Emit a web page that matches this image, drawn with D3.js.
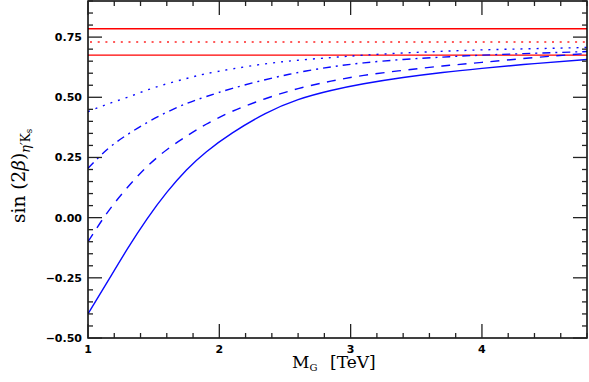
<!DOCTYPE html>
<html><head><meta charset="utf-8">
<script src="https://cdn.jsdelivr.net/npm/d3@7"></script>
<style>body{margin:0;background:#fff}</style>
</head><body>
<svg id="c" width="589" height="382"></svg>
<script>
const mass = [1, 1.15, 1.3, 1.45, 1.6, 1.75, 1.9, 2.1, 2.35, 2.6, 2.85, 3.1, 3.4, 3.7, 4.0, 4.4, 4.8];
const solidS   = [-0.40, -0.265, -0.13, -0.005, 0.105, 0.198, 0.273, 0.352, 0.432, 0.49, 0.528, 0.556, 0.582, 0.603, 0.62, 0.64, 0.657];
const dashedS  = [-0.10, 0.023, 0.125, 0.212, 0.282, 0.338, 0.388, 0.442, 0.494, 0.536, 0.567, 0.591, 0.612, 0.63, 0.645, 0.665, 0.682];
const dashdotS = [0.205, 0.285, 0.345, 0.395, 0.438, 0.474, 0.503, 0.537, 0.573, 0.603, 0.626, 0.643, 0.657, 0.667, 0.675, 0.683, 0.69];
const dottedS  = [0.44, 0.472, 0.50, 0.53, 0.556, 0.578, 0.598, 0.618, 0.639, 0.654, 0.665, 0.675, 0.684, 0.691, 0.697, 0.702, 0.707];
const bandUpper = 0.785, bandCentral = 0.73, bandLower = 0.675;
const xTicks = [1, 2, 3, 4];
const yTicks = [-0.5, -0.25, 0, 0.25, 0.5, 0.75];

const svg = d3.select("#c");
const L = 88, R = 587, T = 1, B = 338;
const x = d3.scaleLinear().domain([1, 4.8]).range([L, R]);
const y = d3.scaleLinear().domain([-0.5, 0.9]).range([B, T]);

svg.append("clipPath").attr("id","clip").append("rect").attr("x",L).attr("y",T).attr("width",R-L).attr("height",B-T);
const pg = svg.append("g").attr("clip-path","url(#clip)");

[bandUpper, bandLower].forEach(v=>{
  pg.append("line").attr("x1",L).attr("x2",R).attr("y1",y(v)).attr("y2",y(v))
    .attr("stroke","#ff0000").attr("stroke-width",1.4);
});
pg.append("line").attr("x1",L+2).attr("x2",R).attr("y1",y(bandCentral)).attr("y2",y(bandCentral))
  .attr("stroke","#ff5a5a").attr("stroke-width",2).attr("stroke-dasharray","2,5.7");

const line = d3.line().x(d=>x(d[0])).y(d=>y(d[1])).curve(d3.curveNatural);
const series = [
  {v: solidS, dash: null},
  {v: dashedS, dash: "9,7.5"},
  {v: dashdotS, dash: "8,5,2,5"},
  {v: dottedS, dash: "2,6"}
];
series.forEach(s=>{
  pg.append("path").datum(mass.map((m,i)=>[m,s.v[i]]))
    .attr("d", line).attr("fill","none").attr("stroke","#0a0aff").attr("stroke-width",1.4)
    .attr("stroke-dasharray", s.dash);
});

svg.append("rect").attr("x",L).attr("y",T).attr("width",R-L).attr("height",B-T)
  .attr("fill","none").attr("stroke","#000").attr("stroke-width",1.5);

const tg = svg.append("g").attr("stroke","#222").attr("stroke-width",1.3);
d3.range(1, 4.81, 0.2).forEach(v=>{
  const major = Math.abs(v-Math.round(v))<1e-6;
  const len = major?14:5;
  tg.append("line").attr("x1",x(v)).attr("x2",x(v)).attr("y1",B).attr("y2",B-len);
  tg.append("line").attr("x1",x(v)).attr("x2",x(v)).attr("y1",T).attr("y2",T+len);
});
d3.range(-0.5, 0.901, 0.05).forEach(v=>{
  const major = Math.abs(v*4-Math.round(v*4))<1e-6;
  const len = major?14:5;
  tg.append("line").attr("x1",L).attr("x2",L+len).attr("y1",y(v)).attr("y2",y(v));
  tg.append("line").attr("x1",R).attr("x2",R-len).attr("y1",y(v)).attr("y2",y(v));
});

const lab = svg.append("g").attr("font-family","DejaVu Sans, sans-serif")
  .attr("font-size",11).attr("font-weight","bold").attr("fill","#000");
yTicks.forEach(v=>{
  lab.append("text").attr("x",L-6).attr("y",y(v)+4).attr("text-anchor","end")
    .text(d3.format(".2f")(v).replace("-","\u2212"));
});
xTicks.forEach(v=>{
  lab.append("text").attr("x",x(v)).attr("y",352.5).attr("text-anchor","middle").text(v);
});

const serif = "DejaVu Serif, serif";
const xt = svg.append("text").attr("x",292).attr("y",368)
  .attr("font-family",serif).attr("font-size",17);
xt.append("tspan").text("M");
xt.append("tspan").attr("font-size",10).attr("dy",3).text("G");
svg.append("text").attr("x",330).attr("y",368).attr("font-family",serif).attr("font-size",17).text("[TeV]");

const yt = svg.append("text").attr("transform","translate(25,223) rotate(-90)").attr("text-anchor","start")
  .attr("font-family",serif).attr("font-size",18.5);
yt.append("tspan").text("sin (2");
yt.append("tspan").attr("font-style","italic").text("\u03b2");
yt.append("tspan").text(")");
yt.append("tspan").attr("font-size",13).attr("font-style","italic").attr("dy",5).text("\u03b7\u2032");
yt.append("tspan").attr("font-size",12).text("K");
yt.append("tspan").attr("font-size",8.5).attr("dy",2).text("s");
</script>
</body></html>
